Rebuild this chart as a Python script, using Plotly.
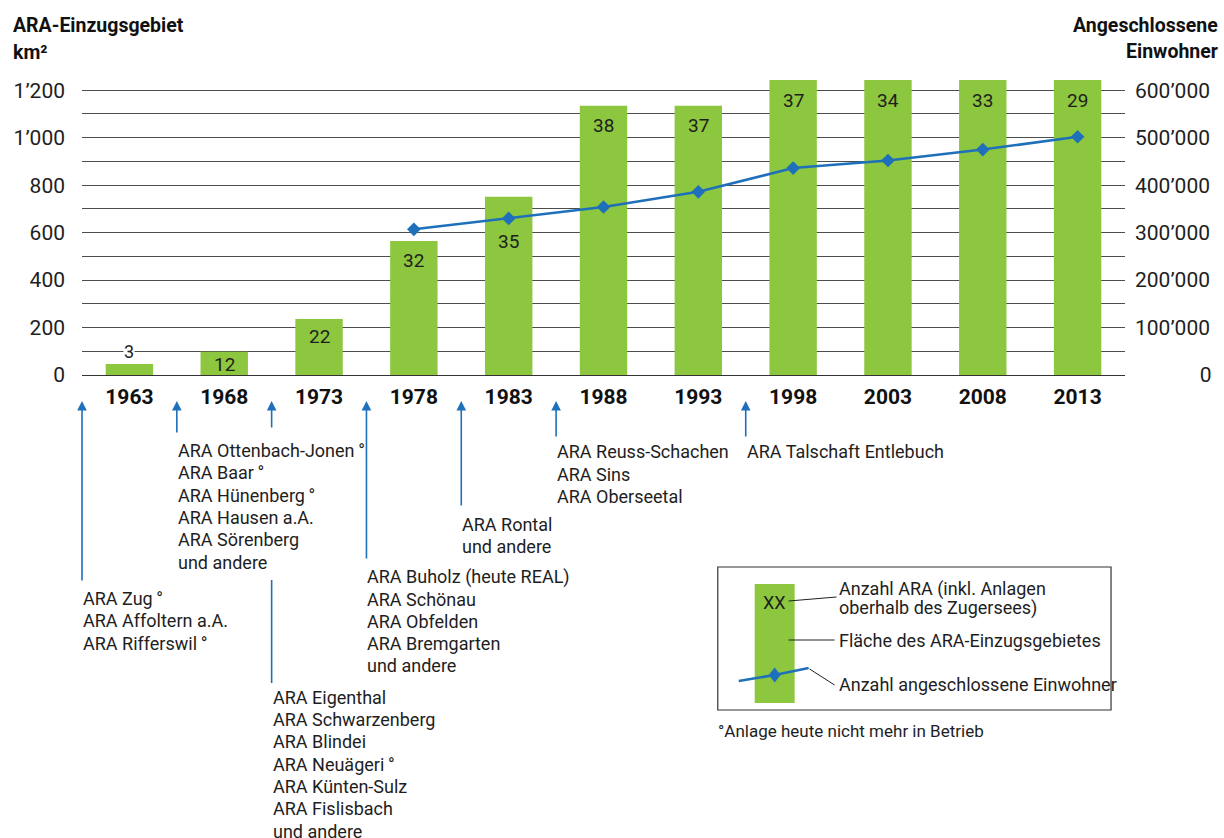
import plotly.graph_objects as go

# ---------------- data ----------------
years = ["1963", "1968", "1973", "1978", "1983", "1988", "1993", "1998", "2003", "2008", "2013"]
area_km2 = [46, 98, 236, 565, 751, 1135, 1135, 1243, 1243, 1243, 1243]
ara_count = [3, 12, 22, 32, 35, 38, 37, 37, 34, 33, 29]
einwohner = [None, None, None, 307000, 330000, 354000, 386000, 436000, 452000, 475000, 502000]

left_tick_vals = [0, 200, 400, 600, 800, 1000, 1200]
left_tick_text = ["0", "200", "400", "600", "800", "1’000", "1’200"]
left_minor_vals = [100, 300, 500, 700, 900, 1100]
right_tick_vals = [0, 100000, 200000, 300000, 400000, 500000, 600000]
right_tick_text = ["0", "100’000", "200’000", "300’000", "400’000", "500’000", "600’000"]

# commissioning notes: (boundary before category index, lines)
DEG = "\u2009°"
notes = [
    (0, ["ARA Zug" + DEG, "ARA Affoltern a.A.", "ARA Rifferswil" + DEG]),
    (1, ["ARA Ottenbach-Jonen" + DEG, "ARA Baar" + DEG, "ARA Hünenberg" + DEG,
         "ARA Hausen a.A.", "ARA Sörenberg", "und andere"]),
    (2, ["ARA Eigenthal", "ARA Schwarzenberg", "ARA Blindei", "ARA Neuägeri" + DEG,
         "ARA Künten-Sulz", "ARA Fislisbach", "und andere"]),
    (3, ["ARA Buholz (heute REAL)", "ARA Schönau", "ARA Obfelden", "ARA Bremgarten", "und andere"]),
    (4, ["ARA Rontal", "und andere"]),
    (5, ["ARA Reuss-Schachen", "ARA Sins", "ARA Oberseetal"]),
    (7, ["ARA Talschaft Entlebuch"]),
]

left_title = ["ARA-Einzugsgebiet", "km²"]
right_title = ["Angeschlossene", "Einwohner"]
legend_texts = ["Anzahl ARA (inkl. Anlagen", "oberhalb des Zugersees)",
                "Fläche des ARA-Einzugsgebietes", "Anzahl angeschlossene Einwohner"]
footnote = "°Anlage heute nicht mehr in Betrieb"

# ---------------- style / layout geometry ----------------
GREEN = "#8DC63F"
BLUE = "#1F70BA"
TXT = "#1e1e1e"
GRID = "#4d4d4d"
FONT = "Roboto"

W, H = 1224, 838
PL, PR, PT, PB = 82, 1127, 76, 375


def px(x):
    return (x - PL) / (PR - PL)


def py(y):
    return (PB - y) / (PB - PT)


def pad_right(label, full):
    nd = sum(c.isdigit() for c in full) - sum(c.isdigit() for c in label)
    na = full.count("’") - label.count("’")
    return "\u2007" * nd + "\u2008" * na + label


right_text_padded = [pad_right(t, right_tick_text[-1]) for t in right_tick_text]
xpos = list(range(len(years)))

fig = go.Figure()
fig.add_trace(go.Bar(x=xpos, y=area_km2, marker=dict(color=GREEN, line=dict(width=0)),
                     width=0.5, yaxis="y", hoverinfo="skip"))
fig.add_trace(go.Scatter(x=xpos, y=einwohner, mode="lines+markers", yaxis="y2",
                         line=dict(color=BLUE, width=2.6),
                         marker=dict(symbol="diamond", size=10.5, color=BLUE),
                         hoverinfo="skip"))

annotations = []
shapes = []

# bar value labels (number of plants); label offsets in pixels from bar top
label_shift = {0: 12.5, 1: -13, 2: -17, 4: -45}
for i, (a, n) in enumerate(zip(area_km2, ara_count)):
    lab = dict(
        x=i, y=a, xref="x", yref="y", text=str(n), showarrow=False, yanchor="middle",
        yshift=label_shift.get(i, -20), font=dict(family=FONT, size=19, color=TXT), borderpad=0,
    )
    if i == 0:
        lab["bgcolor"] = "white"
        lab["font"]["size"] = 18
    annotations.append(lab)

# arrows + notes
LINE_H = 22.3
TIP_Y = 401
tails = {0: 582, 1: 434, 2: 429, 3: 560, 4: 507, 5: 438, 7: 438}
first_centers = {0: 598.5, 1: 450.5, 2: 697.3, 3: 576.7, 4: 524, 5: 451.7, 7: 451}
for idx, lines in notes:
    xb = idx - 0.5
    annotations.append(dict(
        x=xb, y=py(TIP_Y), xref="x", yref="paper", text="", showarrow=True,
        ax=0, ay=tails[idx] - TIP_Y, axref="pixel", ayref="pixel",
        arrowhead=2, arrowsize=1.2, arrowwidth=1.6, arrowcolor=BLUE,
    ))
    for k, line in enumerate(lines):
        annotations.append(dict(
            x=xb, y=py(first_centers[idx] + k * LINE_H), xref="x", yref="paper",
            text=line, showarrow=False, xanchor="left", yanchor="middle", align="left",
            font=dict(family=FONT, size=18, color=TXT), borderpad=0,
        ))
# continuation line of the 1968/1973 arrow below the 1968 text block
shapes.append(dict(type="line", xref="x", yref="paper", x0=1.5, x1=1.5,
                   y0=py(580), y1=py(683), line=dict(color=BLUE, width=1.6)))

# axis titles
for k, t in enumerate(left_title):
    annotations.append(dict(x=px(11), y=py(26 + k * 26), xref="paper", yref="paper",
                            text="<b>" + t + "</b>", showarrow=False, xanchor="left",
                            yanchor="middle", font=dict(family=FONT, size=19.5, color="#111")))
for k, t in enumerate(right_title):
    annotations.append(dict(x=px(1222), y=py(26 + k * 25.5), xref="paper", yref="paper",
                            text="<b>" + t + "</b>", showarrow=False, xanchor="right",
                            yanchor="middle", font=dict(family=FONT, size=19.5, color="#111")))

# legend box
shapes += [
    dict(type="rect", xref="paper", yref="paper", x0=px(719), x1=px(1113), y0=py(567), y1=py(710),
         line=dict(color="#333", width=1.2), fillcolor="rgba(0,0,0,0)"),
    dict(type="rect", xref="paper", yref="paper", x0=px(756), x1=px(796), y0=py(584), y1=py(703),
         line=dict(width=0), fillcolor=GREEN),
    dict(type="line", xref="paper", yref="paper", x0=px(790), x1=px(838), y0=py(601), y1=py(597),
         line=dict(color="#222", width=1)),
    dict(type="line", xref="paper", yref="paper", x0=px(790), x1=px(836), y0=py(640), y1=py(640),
         line=dict(color="#222", width=1)),
    dict(type="path", xref="paper", yref="paper",
         path=f"M {px(740)},{py(681)} L {px(776)},{py(675)} L {px(810)},{py(668)}",
         line=dict(color=BLUE, width=2.6)),
    dict(type="path", xref="paper", yref="paper",
         path=f"M {px(776)},{py(667.5)} L {px(782)},{py(675)} L {px(776)},{py(682.5)} L {px(770)},{py(675)} Z",
         line=dict(width=0), fillcolor=BLUE),
    dict(type="line", xref="paper", yref="paper", x0=px(811), x1=px(836), y0=py(669), y1=py(685),
         line=dict(color="#222", width=1)),
]
annotations.append(dict(x=px(776), y=py(602), xref="paper", yref="paper", text="XX",
                        showarrow=False, xanchor="center", yanchor="middle",
                        font=dict(family=FONT, size=18, color=TXT), borderpad=0))
for t, yc in zip(legend_texts, [589.3, 607.5, 640.5, 684]):
    annotations.append(dict(x=px(839), y=py(yc), xref="paper", yref="paper", text=t,
                            showarrow=False, xanchor="left", yanchor="middle",
                            font=dict(family=FONT, size=18, color=TXT), borderpad=0))
annotations.append(dict(x=px(718), y=py(731), xref="paper", yref="paper", text=footnote,
                        showarrow=False, xanchor="left", yanchor="middle",
                        font=dict(family=FONT, size=17, color=TXT), borderpad=0))

fig.update_layout(
    width=W, height=H,
    margin=dict(l=PL, r=W - PR, t=PT, b=H - PB, pad=0),
    paper_bgcolor="white", plot_bgcolor="white",
    showlegend=False, bargap=0.5,
    font=dict(family=FONT, color=TXT),
    xaxis=dict(range=[-0.5, 10.5], tickvals=xpos, ticktext=years, showgrid=False, ticks="",
               showline=True, linecolor="#333", linewidth=1, zeroline=False,
               tickfont=dict(family=FONT, size=21, color="#111", weight="bold"),
               ticklabelstandoff=3),
    yaxis=dict(range=[0, 1260], tickvals=left_tick_vals, ticktext=left_tick_text,
               showgrid=True, gridcolor=GRID, gridwidth=1, zeroline=False, ticks="",
               tickfont=dict(family=FONT, size=21, color=TXT), ticklabelstandoff=16,
               minor=dict(tickvals=left_minor_vals, showgrid=True, gridcolor=GRID, gridwidth=1, ticks="")),
    yaxis2=dict(range=[0, 630000], overlaying="y", side="right", tickvals=right_tick_vals,
                ticktext=right_text_padded, showgrid=False, zeroline=False, ticks="",
                tickfont=dict(family=FONT, size=21, color=TXT), ticklabelstandoff=9),
    annotations=annotations, shapes=shapes,
)

fig.write_html("out.html", config={"displayModeBar": False})
with open("out.html", encoding="utf-8") as f:
    html = f.read()
html = html.replace("<body>", '<body style="margin:0;padding:0;overflow:hidden">', 1)
with open("out.html", "w", encoding="utf-8") as f:
    f.write(html)
